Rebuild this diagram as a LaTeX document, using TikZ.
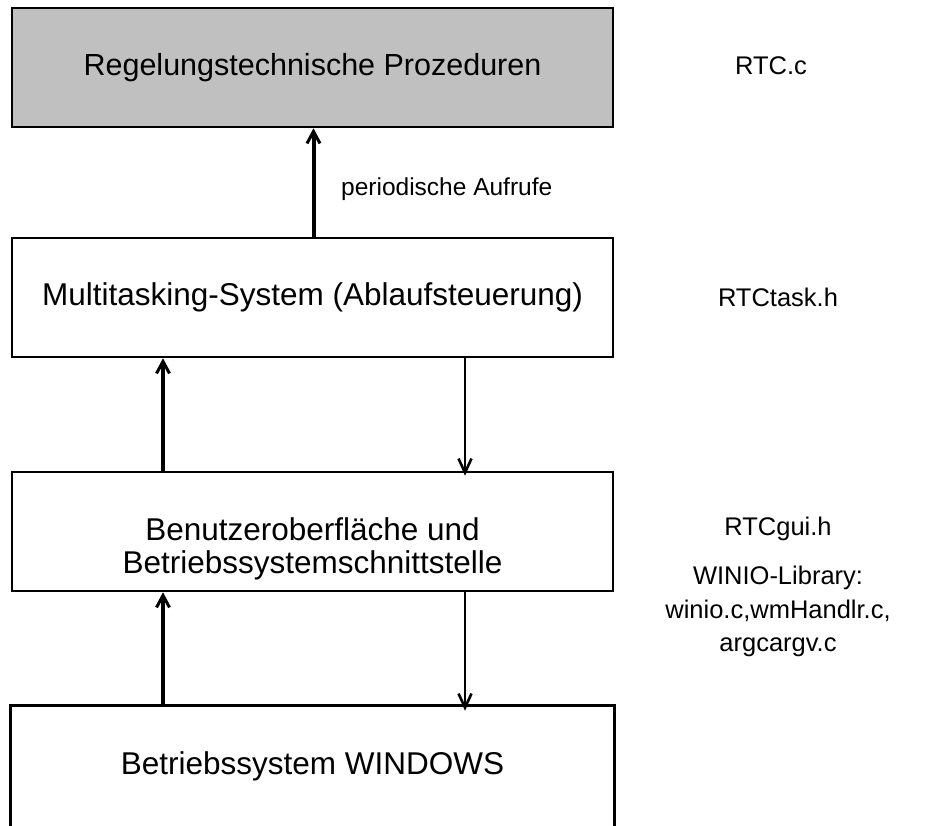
\documentclass[tikz,border=0pt]{standalone}
\usepackage{fontspec}
\setmainfont{Liberation Sans}
\usetikzlibrary{arrows.meta}
\begin{document}
\begin{tikzpicture}[x=1pt,y=-1pt,
  layerbox/.style={line width=2.6pt, minimum width=601pt, minimum height=119pt,
    inner sep=0pt, align=center, font=\fontsize{31.5}{33}\selectfont},
  boxtext/.style={inner sep=0pt, align=center, font=\fontsize{31.5}{33}\selectfont},
  sidetext/.style={align=center, inner sep=0pt, font=\fontsize{25.5}{33.5}\selectfont},
  smalltext/.style={inner sep=0pt, font=\fontsize{24.5}{28}\selectfont},
  uparrow/.style={line width=4pt, -{Straight Barb[length=12pt,width=13pt,line width=3pt]}},
  downarrow/.style={line width=2.8pt, -{Straight Barb[length=14pt,width=13pt,line width=2.6pt]}}
]
\useasboundingbox (0,0) rectangle (947,826);
\fill[white] (0,0) rectangle (947,826);

\node[layerbox, draw, fill={rgb,255:red,192;green,192;blue,192}, font=\fontsize{30.5}{33}\selectfont] (rtc) at (312.5,67.5) {Regelungstechnische Prozeduren};
\node[layerbox, draw] (task) at (312.5,297.5) {Multitasking-System (Ablaufsteuerung)};
\node[layerbox, draw] (gui) at (312.5,531.5) {};
\node[boxtext] (guitext) at (312.5,548.5) {Benutzeroberfläche und\\Betriebssystemschnittstelle};
\node[layerbox] (win) at (312.5,766.5) {Betriebssystem WINDOWS};
\draw[line width=2.6pt] (win.south west) -- (win.north west) -- (win.north east) -- (win.south east);

% arrows
\coordinate (a1x) at (313.5,0);
\draw[uparrow] (task.north -| a1x) -- (rtc.south -| a1x);
\node[smalltext, anchor=west] (periodic) at (341,189) {periodische Aufrufe};

\coordinate (a2x) at (163,0);
\coordinate (a3x) at (465,0);
\draw[uparrow] (gui.north -| a2x) -- (task.south -| a2x);
\draw[downarrow] (task.south -| a3x) -- ([yshift=-5pt]gui.north -| a3x);
\draw[uparrow] (win.north -| a2x) -- (gui.south -| a2x);
\draw[downarrow] (gui.south -| a3x) -- ([yshift=-5pt]win.north -| a3x);

% side labels
\node[sidetext] (f1) at (771,66) {RTC.c};
\node[sidetext] (f2) at (778,297) {RTCtask.h};
\node[sidetext] (f3) at (778,529) {RTCgui.h};
\node[sidetext, anchor=north] (f4) at (778,566) {WINIO-Library:\\winio.c,wmHandlr.c,\\argcargv.c};
\end{tikzpicture}
\end{document}
